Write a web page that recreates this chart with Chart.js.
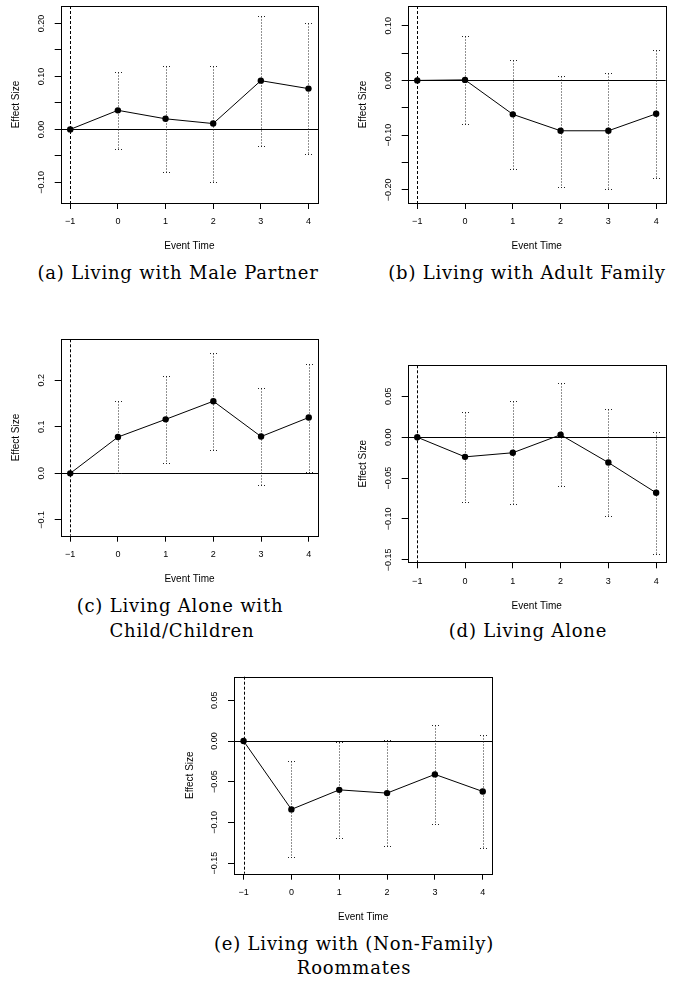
<!DOCTYPE html>
<html lang="en">
<head>
<meta charset="UTF-8">
<title>Event study estimates by living arrangement</title>
<script src="https://cdn.jsdelivr.net/npm/chart.js@4"></script>
<style>
  html, body { margin: 0; padding: 0; background: #fff; }
  body { width: 673px; height: 981px; position: relative; overflow: hidden; }
  canvas { position: absolute; }
  .caption {
    position: absolute;
    font-family: 'DejaVu Serif', serif;
    font-size: 18px;
    letter-spacing: 0.8px;
    line-height: 1;
    color: #000;
    white-space: nowrap;
    transform: translate(-50%, -50%);
  }
</style>
</head>
<body>
<script>
// event time on the x axis
const eventTime = [-1, 0, 1, 2, 3, 4];
const xTickLabels = ['\u22121', '0', '1', '2', '3', '4'];

// (a) Living with Male Partner
const estA  = [0, 0.036, 0.020, 0.011, 0.092, 0.077];
const lowA  = [null, -0.037, -0.080, -0.099, -0.032, -0.046];
const highA = [null, 0.108, 0.120, 0.120, 0.215, 0.201];
const yTicksA  = [-0.10, -0.05, 0, 0.05, 0.10, 0.15, 0.20];
const yLabelsA = ['\u22120.10', '', '0.00', '', '0.10', '', '0.20'];
const yLimA = [-0.139, 0.233];

// (b) Living with Adult Family
const estB  = [0, 0.001, -0.062, -0.092, -0.092, -0.061];
const lowB  = [null, -0.079, -0.162, -0.194, -0.198, -0.179];
const highB = [null, 0.082, 0.037, 0.008, 0.013, 0.056];
const yTicksB  = [-0.20, -0.15, -0.10, -0.05, 0, 0.05, 0.10];
const yLabelsB = ['\u22120.20', '', '\u22120.10', '', '0.00', '', '0.10'];
const yLimB = [-0.224, 0.136];

// (c) Living Alone with Child/Children
const estC  = [0, 0.078, 0.116, 0.155, 0.079, 0.120];
const lowC  = [null, 0.001, 0.022, 0.050, -0.026, 0.003];
const highC = [null, 0.155, 0.210, 0.259, 0.183, 0.236];
const yTicksC  = [-0.1, 0, 0.1, 0.2];
const yLabelsC = ['\u22120.1', '0.0', '0.1', '0.2'];
const yLimC = [-0.134, 0.288];

// (d) Living Alone
const estD  = [0, -0.024, -0.019, 0.003, -0.031, -0.068];
const lowD  = [null, -0.079, -0.082, -0.060, -0.096, -0.143];
const highD = [null, 0.031, 0.044, 0.066, 0.034, 0.006];
const yTicksD  = [-0.15, -0.10, -0.05, 0, 0.05];
const yLabelsD = ['\u22120.15', '\u22120.10', '\u22120.05', '0.00', '0.05'];
const yLimD = [-0.153, 0.088];

// (e) Living with (Non-Family) Roommates
const estE  = [0, -0.084, -0.060, -0.064, -0.041, -0.062];
const lowE  = [null, -0.143, -0.119, -0.129, -0.102, -0.131];
const highE = [null, -0.025, -0.001, 0.001, 0.020, 0.007];
const yTicksE  = [-0.15, -0.10, -0.05, 0, 0.05];
const yLabelsE = ['\u22120.15', '\u22120.10', '\u22120.05', '0.00', '0.05'];
const yLimE = [-0.163, 0.079];

const sansFont = '"Liberation Sans", Arial, sans-serif';

// plot boxes on the page: [left, top, right, bottom], plus caption lines
const panels = [
  { est: estA, low: lowA, high: highA, yTicks: yTicksA, yLabels: yLabelsA, yLim: yLimA,
    box: [60.7, 6, 318, 203], caption: [['(a) Living with Male Partner', 178, 273]] },
  { est: estB, low: lowB, high: highB, yTicks: yTicksB, yLabels: yLabelsB, yLim: yLimB,
    box: [407.7, 6, 665.7, 203], caption: [['(b) Living with Adult Family', 527, 273]] },
  { est: estC, low: lowC, high: highC, yTicks: yTicksC, yLabels: yLabelsC, yLim: yLimC,
    box: [60.7, 339.3, 318.3, 535.7],
    caption: [['(c) Living Alone with', 180, 606], ['Child/Children', 182, 631]] },
  { est: estD, low: lowD, high: highD, yTicks: yTicksD, yLabels: yLabelsD, yLim: yLimD,
    box: [407.7, 365.3, 665.7, 562.3], caption: [['(d) Living Alone', 528, 631]] },
  { est: estE, low: lowE, high: highE, yTicks: yTicksE, yLabels: yLabelsE, yLim: yLimE,
    box: [234, 676.7, 492.3, 873.7],
    caption: [['(e) Living with (Non-Family)', 354, 944], ['Roommates', 354, 968]] }
];

function seg(ctx, x1, y1, x2, y2) {
  ctx.beginPath();
  ctx.moveTo(x1, y1);
  ctx.lineTo(x2, y2);
  ctx.stroke();
}

// reference lines, error bars, box and the R-style axis text
const rPlot = {
  id: 'rPlot',
  beforeDatasetsDraw(chart, args, opts) {
    const { ctx, chartArea: a, scales: { x, y } } = chart;
    ctx.save();
    ctx.lineWidth = 1;
    ctx.strokeStyle = '#000';
    const y0 = Math.round(y.getPixelForValue(0)) + 0.5;
    seg(ctx, a.left, y0, a.right, y0);

    ctx.setLineDash([3, 2]);
    const xRef = Math.round(x.getPixelForValue(-1)) + 0.5;
    seg(ctx, xRef, a.top, xRef, a.bottom);

    ctx.setLineDash([1, 2]);
    ctx.strokeStyle = '#222';
    opts.low.forEach((lo, i) => {
      const hi = opts.high[i];
      if (lo == null || hi == null) return;
      const px = Math.round(x.getPixelForValue(eventTime[i])) + 0.5;
      const pLo = Math.round(y.getPixelForValue(lo)) + 0.5;
      const pHi = Math.round(y.getPixelForValue(hi)) + 0.5;
      seg(ctx, px, pHi, px, pLo);
      seg(ctx, px - 3.5, pHi, px + 4, pHi);
      seg(ctx, px - 3.5, pLo, px + 4, pLo);
    });
    ctx.restore();
  },
  afterDraw(chart, args, opts) {
    const { ctx, chartArea: a, scales: { x, y } } = chart;
    ctx.save();
    ctx.strokeStyle = '#000';
    ctx.lineWidth = 1;
    ctx.strokeRect(Math.round(a.left) + 0.5, Math.round(a.top) + 0.5,
      Math.round(a.right) - Math.round(a.left), Math.round(a.bottom) - Math.round(a.top));

    ctx.fillStyle = '#000';
    ctx.textAlign = 'center';
    ctx.textBaseline = 'middle';
    ctx.font = '9px ' + sansFont;
    eventTime.forEach((t, i) => {
      ctx.fillText(xTickLabels[i], x.getPixelForValue(t), a.bottom + 19);
    });
    ctx.font = '10px ' + sansFont;
    ctx.fillText('Event Time', (a.left + a.right) / 2, a.bottom + 43.5);

    ctx.save();
    ctx.translate(a.left - 19, 0);
    ctx.rotate(-Math.PI / 2);
    ctx.font = '9px ' + sansFont;
    opts.yTicks.forEach((v, i) => {
      if (opts.yLabels[i]) ctx.fillText(opts.yLabels[i], -y.getPixelForValue(v), 0);
    });
    ctx.restore();

    ctx.save();
    ctx.translate(a.left - 44, (a.top + a.bottom) / 2);
    ctx.rotate(-Math.PI / 2);
    ctx.font = '10px ' + sansFont;
    ctx.fillText('Effect Size', 0, 0);
    ctx.restore();
    ctx.restore();
  }
};

const PAD_L = 62, PAD_T = 6, PAD_R = 7, PAD_B = 56;

panels.forEach(p => {
  const [bl, bt, br, bb] = p.box;
  const left = Math.floor(bl - PAD_L);
  const top = Math.max(0, Math.floor(bt - PAD_T));
  const cv = document.createElement('canvas');
  cv.width = Math.ceil(br + PAD_R) - left;
  cv.height = Math.ceil(bb + PAD_B) - top;
  cv.style.left = left + 'px';
  cv.style.top = top + 'px';
  document.body.appendChild(cv);

  const tickGrid = { display: true, drawOnChartArea: false, drawTicks: true, tickLength: 6, color: '#000', lineWidth: 1 };

  new Chart(cv, {
    type: 'scatter',
    data: {
      datasets: [{
        data: eventTime.map((t, i) => ({ x: t, y: p.est[i] })),
        showLine: true,
        borderColor: '#000',
        backgroundColor: '#000',
        borderWidth: 1,
        pointRadius: 3.2,
        pointHoverRadius: 3.2,
        pointBorderWidth: 0
      }]
    },
    options: {
      responsive: false,
      animation: false,
      events: [],
      layout: {
        padding: {
          left: bl - left,
          top: bt - top,
          right: cv.width - (br - left),
          bottom: cv.height - (bb - top)
        }
      },
      plugins: {
        legend: { display: false },
        tooltip: { enabled: false },
        rPlot: { low: p.low, high: p.high, yTicks: p.yTicks, yLabels: p.yLabels }
      },
      scales: {
        x: {
          type: 'linear', min: -1.2, max: 4.2,
          afterBuildTicks: s => { s.ticks = eventTime.map(v => ({ value: v })); },
          afterFit: s => { s.height = 0; },
          ticks: { display: false },
          grid: tickGrid,
          border: { display: false }
        },
        y: {
          type: 'linear', min: p.yLim[0], max: p.yLim[1],
          afterBuildTicks: s => { s.ticks = p.yTicks.map(v => ({ value: v })); },
          afterFit: s => { s.width = 0; },
          ticks: { display: false },
          grid: tickGrid,
          border: { display: false }
        }
      }
    },
    plugins: [rPlot]
  });

  p.caption.forEach(([text, cx, cy]) => {
    const d = document.createElement('div');
    d.className = 'caption';
    d.textContent = text;
    d.style.left = cx + 'px';
    d.style.top = cy + 'px';
    document.body.appendChild(d);
  });
});
</script>
</body>
</html>
